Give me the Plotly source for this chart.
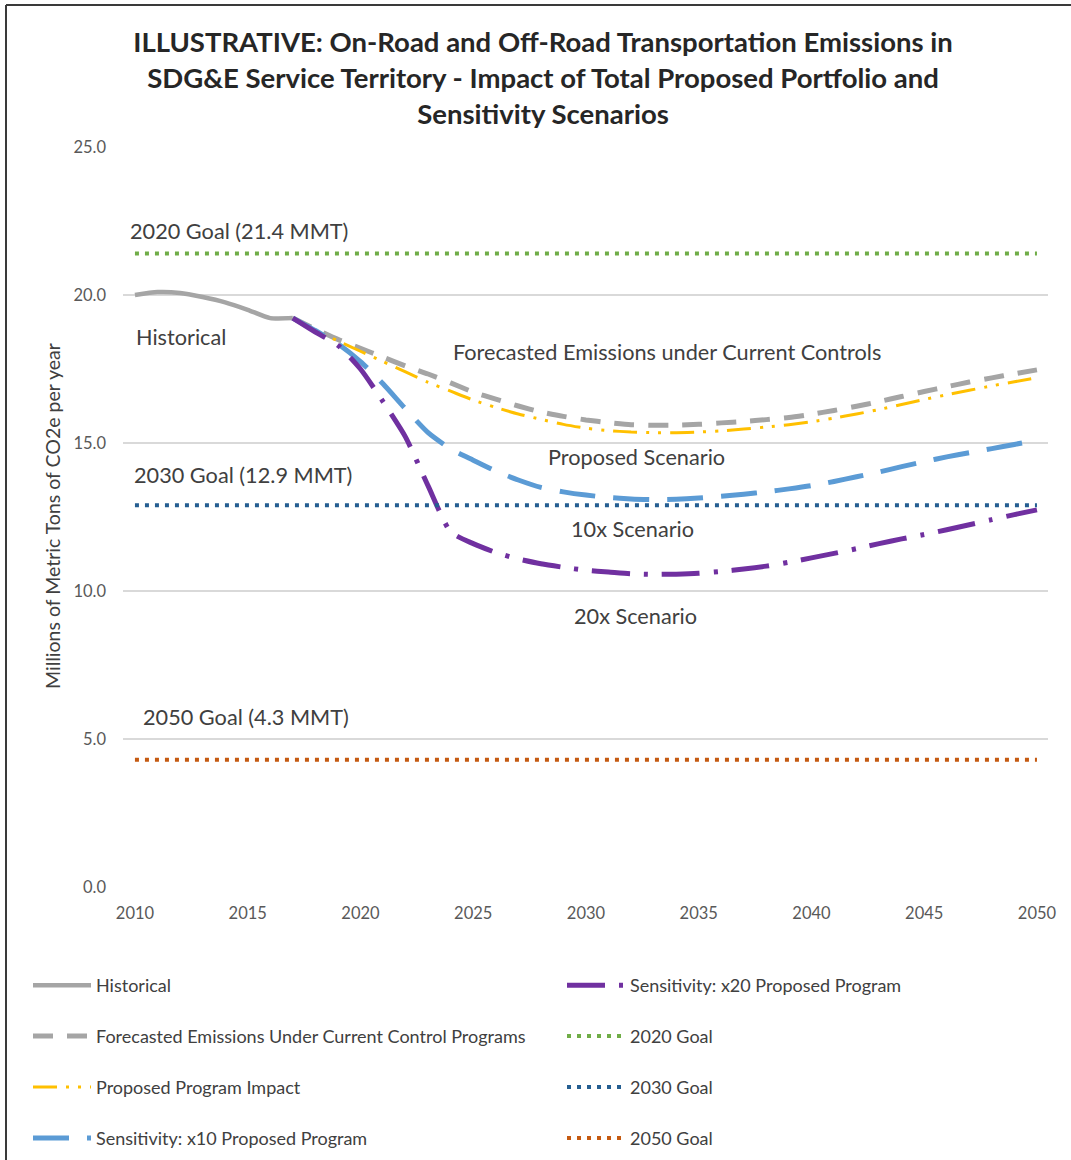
import plotly.graph_objects as go

# ---------------- data ----------------
hist_years = list(range(2010, 2018))
historical = [20.0, 20.1, 20.07, 19.93, 19.75, 19.5, 19.22, 19.22]

fc_years = list(range(2017, 2051))
forecast = [19.22, 18.85, 18.5, 18.2, 17.9, 17.6, 17.33, 17.03, 16.72, 16.48,
            16.25, 16.05, 15.9, 15.78, 15.69, 15.62, 15.6, 15.6, 15.63, 15.68,
            15.73, 15.79, 15.86, 15.97, 16.1, 16.24, 16.4, 16.57, 16.74, 16.9,
            17.06, 17.2, 17.34, 17.47]
proposed = [19.22, 18.8, 18.45, 18.1, 17.75, 17.4, 17.05, 16.75, 16.45, 16.2,
            15.98, 15.8, 15.63, 15.5, 15.42, 15.37, 15.35, 15.35, 15.37, 15.41,
            15.47, 15.54, 15.62, 15.72, 15.84, 15.98, 16.13, 16.3, 16.47, 16.63,
            16.78, 16.93, 17.07, 17.2]
sens_x10 = [19.22, 18.8, 18.35, 17.75, 17.0, 16.15, 15.35, 14.8, 14.42, 14.05,
            13.75, 13.5, 13.35, 13.24, 13.16, 13.11, 13.09, 13.1, 13.14, 13.2,
            13.27, 13.35, 13.45, 13.56, 13.7, 13.86, 14.02, 14.2, 14.37, 14.53,
            14.67, 14.81, 14.95, 15.1]
sens_x20 = [19.22, 18.75, 18.3, 17.5, 16.4, 15.2, 13.55, 12.0, 11.6, 11.3,
            11.08, 10.92, 10.8, 10.7, 10.64, 10.58, 10.56, 10.57, 10.6, 10.66,
            10.74, 10.84, 10.97, 11.12, 11.27, 11.43, 11.6, 11.76, 11.91, 12.07,
            12.24, 12.41, 12.58, 12.74]

goal_years = [2010, 2050]
goal_2020 = [21.4, 21.4]
goal_2030 = [12.9, 12.9]
goal_2050 = [4.3, 4.3]

x_ticks = [2010, 2015, 2020, 2025, 2030, 2035, 2040, 2045, 2050]
y_ticks = [0, 5, 10, 15, 20, 25]

FONT = "Lato"
TXT = "#404040"

# ---------------- figure ----------------
W, H = 1071, 1160
ML, MR, MT, MB = 123, 23, 147, 273
PW, PH = W - ML - MR, H - MT - MB

def px_x(p):
    return (p - ML) / PW

def px_y(p):
    return (H - MB - p) / PH

fig = go.Figure()

def add(x, y, name, color, width, dash, legend, group):
    fig.add_trace(go.Scatter(
        x=x, y=y, name=name, mode="lines",
        line=dict(color=color, width=width, dash=dash, shape="spline", smoothing=0.6),
        legend=legend, legendgroup=group, hoverinfo="x+y+name"))

add(hist_years, historical, "Historical", "#A5A5A5", 4.5, "solid", "legend", "a")
add(fc_years, forecast, "Forecasted Emissions Under Current Control Programs",
    "#A5A5A5", 5, "20px,14px", "legend", "b")
add(fc_years, proposed, "Proposed Program Impact", "#FFC000", 3,
    "24px,9px,3px,9px,3px,9px", "legend", "c")
add(fc_years, sens_x10, "Sensitivity: x10 Proposed Program", "#5B9BD5", 5,
    "36px,18px", "legend", "d")
add(fc_years, sens_x20, "Sensitivity: x20 Proposed Program", "#7030A0", 5,
    "38px,14px,4px,14px", "legend2", "e")
add(goal_years, goal_2020, "2020 Goal", "#70AD47", 4, "4px,6px", "legend2", "f")
add(goal_years, goal_2030, "2030 Goal", "#255E91", 4, "4px,6px", "legend2", "g")
add(goal_years, goal_2050, "2050 Goal", "#C55A11", 4, "4px,6px", "legend2", "h")

labels = [
    ("2020 Goal (21.4 MMT)", 128, 231),
    ("Historical", 134, 337),
    ("Forecasted Emissions under Current Controls", 451, 352),
    ("Proposed Scenario", 546, 457),
    ("2030 Goal (12.9 MMT)", 132, 475),
    ("10x Scenario", 569, 529),
    ("20x Scenario", 572, 616),
    ("2050 Goal (4.3 MMT)", 141, 717),
]
annotations = []
for text, lx, ly in labels:
    annotations.append(dict(text=text, xref="paper", yref="paper",
                            x=px_x(lx), y=px_y(ly), xanchor="left", yanchor="middle",
                            showarrow=False, font=dict(family=FONT, size=21.7, color=TXT)))
annotations.append(dict(text="Millions of Metric Tons of CO2e per year",
                        xref="paper", yref="paper", x=px_x(52), y=px_y(516),
                        xanchor="center", yanchor="middle", textangle=-90,
                        showarrow=False, font=dict(family=FONT, size=19.5, color=TXT)))

legend_common = dict(orientation="v", bgcolor="rgba(0,0,0,0)", borderwidth=0,
                     font=dict(family=FONT, size=18, color=TXT),
                     itemwidth=58, tracegroupgap=24.5, itemclick=False,
                     xanchor="left", yanchor="top", traceorder="grouped")

fig.update_layout(
    width=W, height=H,
    margin=dict(l=ML, r=MR, t=MT, b=MB, autoexpand=False),
    paper_bgcolor="white", plot_bgcolor="white",
    font=dict(family=FONT, color=TXT),
    title=dict(text="ILLUSTRATIVE: On-Road and Off-Road Transportation Emissions in<br>"
                    "SDG&E Service Territory - Impact of Total Proposed Portfolio and<br>"
                    "Sensitivity Scenarios",
               x=543 / W, xanchor="center", y=1 - 52 / H, yanchor="top",
               font=dict(family=FONT, size=27.5, color="#262626", weight="bold")),
    xaxis=dict(range=[2009.47, 2050.49], tickvals=x_ticks, showgrid=False,
               zeroline=False, showline=False, ticks="", ticklabelstandoff=14,
               tickfont=dict(family=FONT, size=16.5, color="#595959")),
    yaxis=dict(range=[0, 25], tickvals=y_ticks, tickformat=".1f",
               showgrid=True, gridcolor="#D9D9D9", gridwidth=1.5,
               zeroline=False, showline=False, ticks="", ticklabelstandoff=16,
               tickfont=dict(family=FONT, size=16.5, color="#595959")),
    legend=dict(x=px_x(28), y=px_y(967), **legend_common),
    legend2=dict(x=px_x(562), y=px_y(967), **legend_common),
    annotations=annotations,
    shapes=[
        dict(type="line", xref="paper", yref="paper", x0=px_x(6), x1=px_x(W + 5),
             y0=px_y(5), y1=px_y(5), line=dict(color="#3A3A3A", width=2)),
        dict(type="line", xref="paper", yref="paper", x0=px_x(6), x1=px_x(6),
             y0=px_y(5), y1=px_y(H + 5), line=dict(color="#3A3A3A", width=2)),
    ],
)

fig.write_html("out.html")
